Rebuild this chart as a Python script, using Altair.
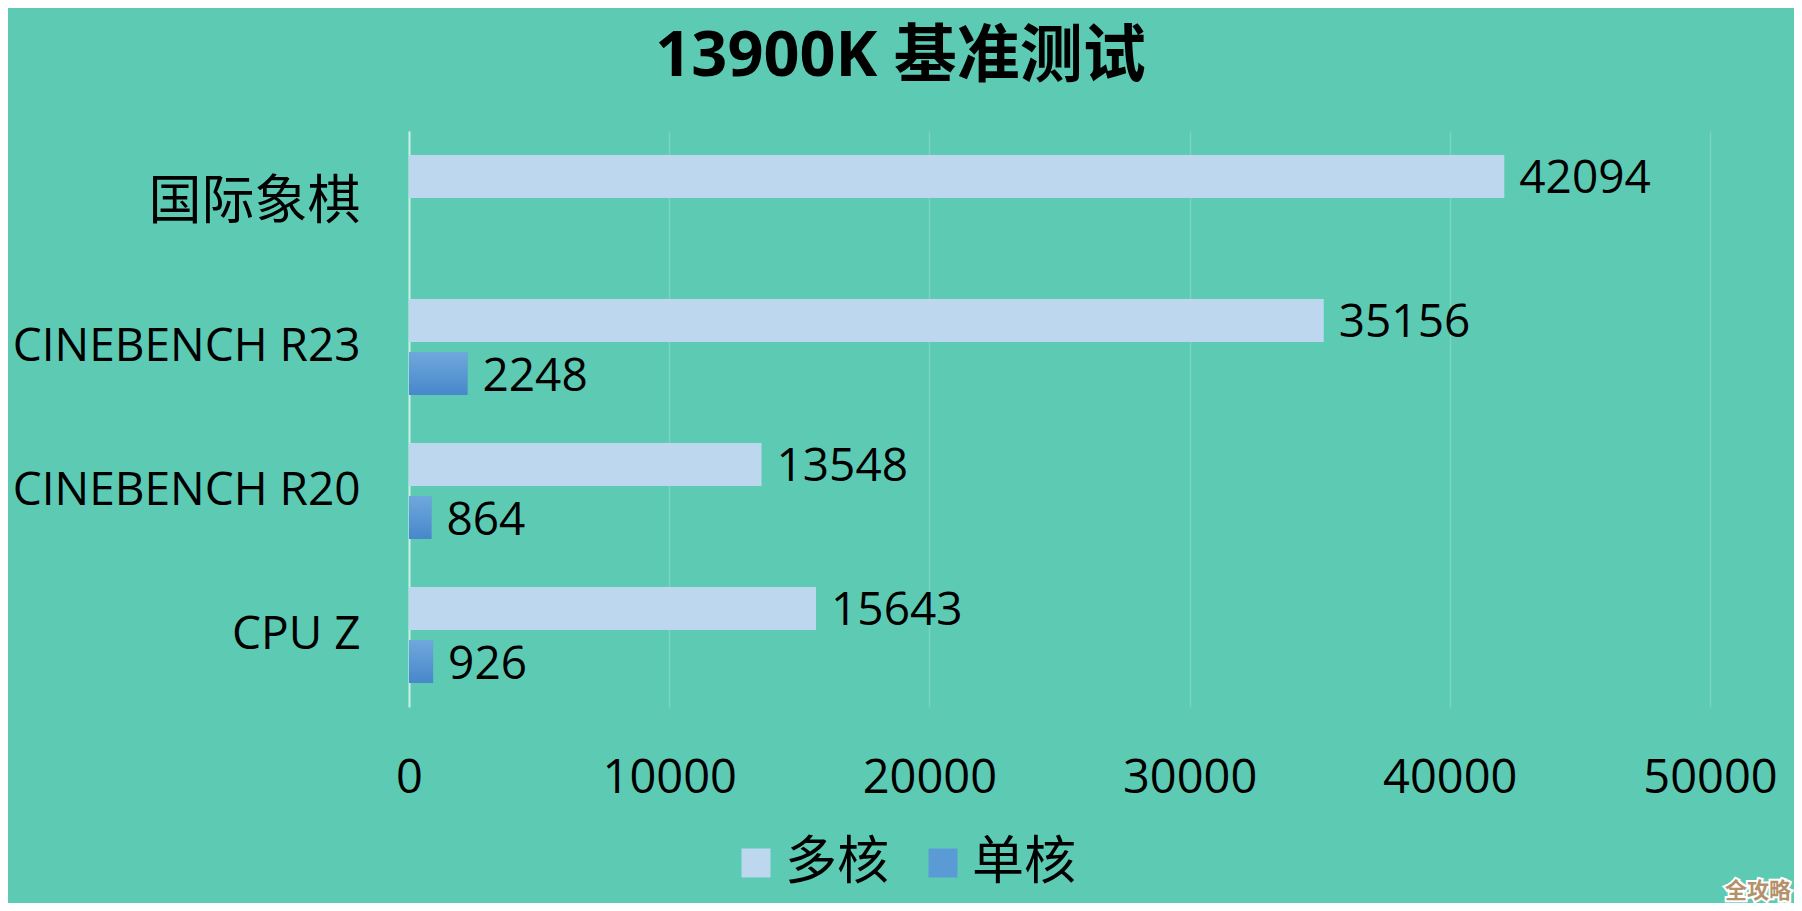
import altair as alt
import pandas as pd

categories = ["国际象棋", "CINEBENCH R23", "CINEBENCH R20", "CPU Z"]
series_names = ["多核", "单核"]
multi_core = [42094, 35156, 13548, 15643]
single_core = [None, 2248, 864, 926]
x_ticks = [0, 10000, 20000, 30000, 40000, 50000]
title_text = "13900K 基准测试"
watermark = ["全攻略"]

rows = []
for c, m, s in zip(categories, multi_core, single_core):
    rows.append({"bench": c, "series": series_names[0], "value": m})
    if s is not None:
        rows.append({"bench": c, "series": series_names[1], "value": s})
df = pd.DataFrame(rows)

FONT = "Open Sans, Noto Sans CJK SC, sans-serif"
BG = "#5DCBB4"

y_enc = alt.Y(
    "bench:N",
    sort=categories,
    scale=alt.Scale(paddingInner=0.333, paddingOuter=0.1667),
    axis=alt.Axis(
        title=None,
        domain=True,
        domainColor="#CDEFE8",
        domainWidth=2,
        ticks=False,
        tickSize=0,
        grid=False,
        labelFontSize={"condition": {"test": "datum.value === '国际象棋'", "value": 53}, "value": 46},
        labelPadding=49,
        labelLimit=500,
        labelColor="#000000",
        labelFont=FONT,
    ),
)
yoff_enc = alt.YOffset("series:N", sort=series_names, scale=alt.Scale(paddingInner=0.19))
x_enc = alt.X(
    "value:Q",
    scale=alt.Scale(domain=[0, 50000], nice=False),
    axis=alt.Axis(
        title=None,
        values=x_ticks,
        format="d",
        domain=False,
        ticks=False,
        tickSize=0,
        grid=True,
        gridColor="#78D4C1",
        gridWidth=1.5,
        labelFontSize=47,
        labelPadding=48,
        labelFlush=False,
        labelBound=False,
        labelOverlap=False,
        labelColor="#000000",
        labelFont=FONT,
    ),
)

base = alt.Chart(df)

bars = base.mark_bar().encode(
    y=y_enc,
    yOffset=yoff_enc,
    x=x_enc,
    color=alt.Color(
        "series:N",
        sort=series_names,
        scale=alt.Scale(domain=series_names, range=["#BDD7EE", "#5B9BD5"]),
        legend=alt.Legend(
            orient="none",
            legendX=321,
            legendY=706,
            direction="horizontal",
            title=None,
            symbolType="square",
            symbolSize=841,
            symbolStrokeWidth=0,
            labelFontSize=52,
            labelFont=FONT,
            labelColor="#000000",
            labelOffset=3,
            columnPadding=27,
            padding=0,
        ),
    ),
)

grad = alt.Gradient(
    gradient="linear",
    stops=[
        alt.GradientStop(color="#6FA8DD", offset=0),
        alt.GradientStop(color="#4787CA", offset=1),
    ],
    x1=0, x2=0, y1=0, y2=1,
)
single_bars = base.transform_filter(
    alt.datum.series == series_names[1]
).mark_bar(color=grad).encode(y=y_enc, yOffset=yoff_enc, x=x_enc)

labels = base.mark_text(
    align="left", baseline="middle", dx=15, dy=3, fontSize=46, font=FONT, color="#000000"
).encode(y=y_enc, yOffset=yoff_enc, x=x_enc, text=alt.Text("value:Q", format="d"))

wm_df = pd.DataFrame({"t": watermark})
wm_stroke = alt.Chart(wm_df).mark_text(
    fontSize=22, fontWeight="bold", font="Noto Sans CJK SC", align="center",
    baseline="alphabetic", stroke="#FFFFFF", strokeWidth=4, color="#FFFFFF",
).encode(x=alt.value(1349), y=alt.value(767), text="t:N")
wm_fill = alt.Chart(wm_df).mark_text(
    fontSize=22, fontWeight="bold", font="Noto Sans CJK SC", align="center",
    baseline="alphabetic", color="#B3916A",
).encode(x=alt.value(1349), y=alt.value(767), text="t:N")

chart = alt.layer(bars, single_bars, labels, wm_stroke, wm_fill).properties(
    width=1301,
    height=576,
    title=alt.TitleParams(
        text=title_text,
        fontSize=63,
        fontWeight="bold",
        font=FONT,
        color="#000000",
        anchor="middle",
        frame="group",
        dx=-159,
        dy=8,
        offset=0,
        baseline="alphabetic",
    ),
    autosize=alt.AutoSizeParams(type="none"),
    padding={"left": 401, "top": 123, "right": 84, "bottom": 196},
    background=BG,
).configure_view(stroke=None)

chart.save("out.html", embed_options={"renderer": "svg", "actions": False})
